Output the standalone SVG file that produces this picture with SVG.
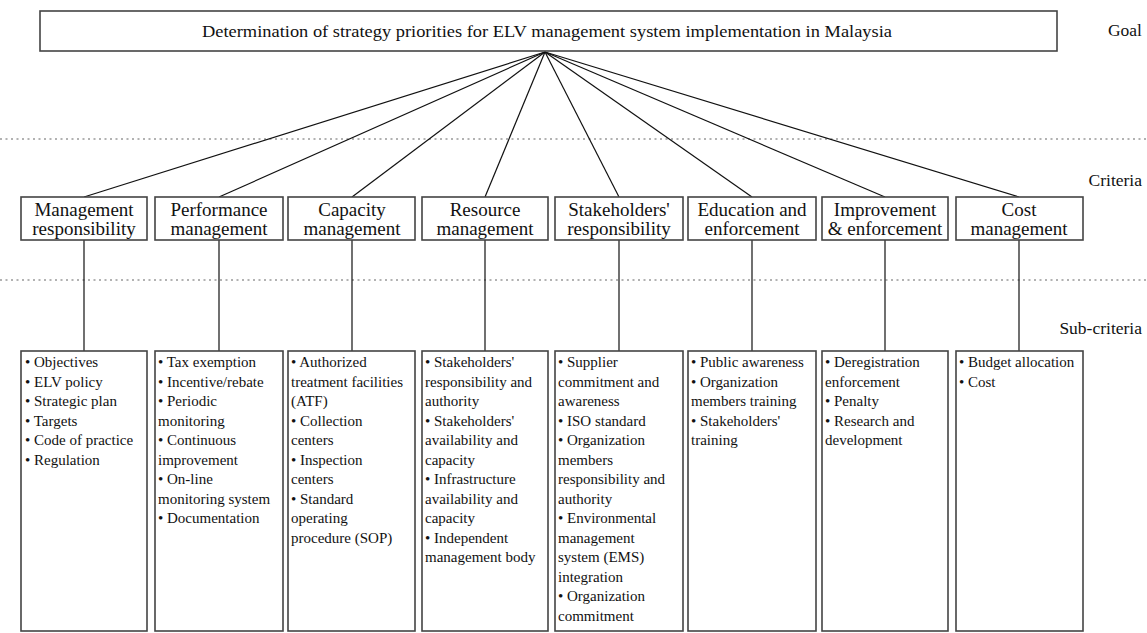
<svg xmlns="http://www.w3.org/2000/svg" width="1147" height="633" viewBox="0 0 1147 633">
<style>
.box{fill:#fff;stroke:#444;stroke-width:1.6}
.ln{stroke:#111;stroke-width:1.2;fill:none}
.dot{stroke:#999;stroke-width:1.3;stroke-dasharray:2 3.5}
.t{font-family:"Liberation Serif","Times New Roman",serif;fill:#111}
.goal{font-size:17.5px}
.cr{font-size:19px;text-anchor:middle}
.sc{font-size:15px}
.lab{font-size:17.5px;text-anchor:end}
</style>
<rect width="1147" height="633" fill="#fff"/>
<line class="dot" x1="0" y1="139" x2="1147" y2="139"/>
<line class="dot" x1="0" y1="280" x2="1147" y2="280"/>
<text class="t lab" x="1142" y="36">Goal</text>
<text class="t lab" x="1142" y="186">Criteria</text>
<text class="t lab" x="1142" y="334">Sub-criteria</text>
<g id="connectors">
<line class="ln" x1="545" y1="52" x2="84" y2="197"/>
<line class="ln" x1="545" y1="52" x2="219" y2="197"/>
<line class="ln" x1="545" y1="52" x2="352" y2="197"/>
<line class="ln" x1="545" y1="52" x2="485" y2="197"/>
<line class="ln" x1="545" y1="52" x2="619" y2="197"/>
<line class="ln" x1="545" y1="52" x2="752" y2="197"/>
<line class="ln" x1="545" y1="52" x2="885" y2="197"/>
<line class="ln" x1="545" y1="52" x2="1019" y2="197"/>
<line class="ln" x1="84" y1="240" x2="84" y2="351"/>
<line class="ln" x1="219" y1="240" x2="219" y2="351"/>
<line class="ln" x1="352" y1="240" x2="352" y2="351"/>
<line class="ln" x1="485" y1="240" x2="485" y2="351"/>
<line class="ln" x1="619" y1="240" x2="619" y2="351"/>
<line class="ln" x1="752" y1="240" x2="752" y2="351"/>
<line class="ln" x1="885" y1="240" x2="885" y2="351"/>
<line class="ln" x1="1019" y1="240" x2="1019" y2="351"/>
</g>
<g id="goal">
<rect class="box" x="40" y="11" width="1017" height="40"/>
<text class="t goal" x="547" y="37" text-anchor="middle" textLength="690" lengthAdjust="spacingAndGlyphs">Determination of strategy priorities for ELV management system implementation in Malaysia</text>
</g>
<g id="c1"><rect class="box" x="21" y="197" width="126" height="43"/><text class="t cr" x="84" y="216">Management</text><text class="t cr" x="84" y="235">responsibility</text></g>
<g id="c2"><rect class="box" x="155" y="197" width="128" height="43"/><text class="t cr" x="219" y="216">Performance</text><text class="t cr" x="219" y="235">management</text></g>
<g id="c3"><rect class="box" x="288" y="197" width="127" height="43"/><text class="t cr" x="352" y="216">Capacity</text><text class="t cr" x="352" y="235">management</text></g>
<g id="c4"><rect class="box" x="422" y="197" width="126" height="43"/><text class="t cr" x="485" y="216">Resource</text><text class="t cr" x="485" y="235">management</text></g>
<g id="c5"><rect class="box" x="555" y="197" width="128" height="43"/><text class="t cr" x="619" y="216">Stakeholders'</text><text class="t cr" x="619" y="235">responsibility</text></g>
<g id="c6"><rect class="box" x="688" y="197" width="128" height="43"/><text class="t cr" x="752" y="216">Education and</text><text class="t cr" x="752" y="235">enforcement</text></g>
<g id="c7"><rect class="box" x="822" y="197" width="126" height="43"/><text class="t cr" x="885" y="216">Improvement</text><text class="t cr" x="885" y="235">&amp; enforcement</text></g>
<g id="c8"><rect class="box" x="956" y="197" width="127" height="43"/><text class="t cr" x="1019" y="216">Cost</text><text class="t cr" x="1019" y="235">management</text></g>
<g id="s1"><rect class="box" x="21" y="351" width="126" height="280"/>
<text class="t sc" x="25" y="367">• Objectives</text>
<text class="t sc" x="25" y="386.5">• ELV policy</text>
<text class="t sc" x="25" y="406">• Strategic plan</text>
<text class="t sc" x="25" y="425.5">• Targets</text>
<text class="t sc" x="25" y="445">• Code of practice</text>
<text class="t sc" x="25" y="464.5">• Regulation</text>
</g>
<g id="s2"><rect class="box" x="155" y="351" width="128" height="280"/>
<text class="t sc" x="158" y="367">• Tax exemption</text>
<text class="t sc" x="158" y="386.5">• Incentive/rebate</text>
<text class="t sc" x="158" y="406">• Periodic</text>
<text class="t sc" x="158" y="425.5">monitoring</text>
<text class="t sc" x="158" y="445">• Continuous</text>
<text class="t sc" x="158" y="464.5">improvement</text>
<text class="t sc" x="158" y="484">• On-line</text>
<text class="t sc" x="158" y="503.5">monitoring system</text>
<text class="t sc" x="158" y="523">• Documentation</text>
</g>
<g id="s3"><rect class="box" x="288" y="351" width="127" height="280"/>
<text class="t sc" x="291" y="367">• Authorized</text>
<text class="t sc" x="291" y="386.5">treatment facilities</text>
<text class="t sc" x="291" y="406">(ATF)</text>
<text class="t sc" x="291" y="425.5">• Collection</text>
<text class="t sc" x="291" y="445">centers</text>
<text class="t sc" x="291" y="464.5">• Inspection</text>
<text class="t sc" x="291" y="484">centers</text>
<text class="t sc" x="291" y="503.5">• Standard</text>
<text class="t sc" x="291" y="523">operating</text>
<text class="t sc" x="291" y="542.5">procedure (SOP)</text>
</g>
<g id="s4"><rect class="box" x="422" y="351" width="126" height="280"/>
<text class="t sc" x="425" y="367">• Stakeholders'</text>
<text class="t sc" x="425" y="386.5">responsibility and</text>
<text class="t sc" x="425" y="406">authority</text>
<text class="t sc" x="425" y="425.5">• Stakeholders'</text>
<text class="t sc" x="425" y="445">availability and</text>
<text class="t sc" x="425" y="464.5">capacity</text>
<text class="t sc" x="425" y="484">• Infrastructure</text>
<text class="t sc" x="425" y="503.5">availability and</text>
<text class="t sc" x="425" y="523">capacity</text>
<text class="t sc" x="425" y="542.5">• Independent</text>
<text class="t sc" x="425" y="562">management body</text>
</g>
<g id="s5"><rect class="box" x="555" y="351" width="128" height="280"/>
<text class="t sc" x="558" y="367">• Supplier</text>
<text class="t sc" x="558" y="386.5">commitment and</text>
<text class="t sc" x="558" y="406">awareness</text>
<text class="t sc" x="558" y="425.5">• ISO standard</text>
<text class="t sc" x="558" y="445">• Organization</text>
<text class="t sc" x="558" y="464.5">members</text>
<text class="t sc" x="558" y="484">responsibility and</text>
<text class="t sc" x="558" y="503.5">authority</text>
<text class="t sc" x="558" y="523">• Environmental</text>
<text class="t sc" x="558" y="542.5">management</text>
<text class="t sc" x="558" y="562">system (EMS)</text>
<text class="t sc" x="558" y="581.5">integration</text>
<text class="t sc" x="558" y="601">• Organization</text>
<text class="t sc" x="558" y="620.5">commitment</text>
</g>
<g id="s6"><rect class="box" x="688" y="351" width="128" height="280"/>
<text class="t sc" x="691" y="367">• Public awareness</text>
<text class="t sc" x="691" y="386.5">• Organization</text>
<text class="t sc" x="691" y="406">members training</text>
<text class="t sc" x="691" y="425.5">• Stakeholders'</text>
<text class="t sc" x="691" y="445">training</text>
</g>
<g id="s7"><rect class="box" x="822" y="351" width="126" height="280"/>
<text class="t sc" x="825" y="367">• Deregistration</text>
<text class="t sc" x="825" y="386.5">enforcement</text>
<text class="t sc" x="825" y="406">• Penalty</text>
<text class="t sc" x="825" y="425.5">• Research and</text>
<text class="t sc" x="825" y="445">development</text>
</g>
<g id="s8"><rect class="box" x="956" y="351" width="127" height="280"/>
<text class="t sc" x="959" y="367">• Budget allocation</text>
<text class="t sc" x="959" y="386.5">• Cost</text>
</g>
</svg>
